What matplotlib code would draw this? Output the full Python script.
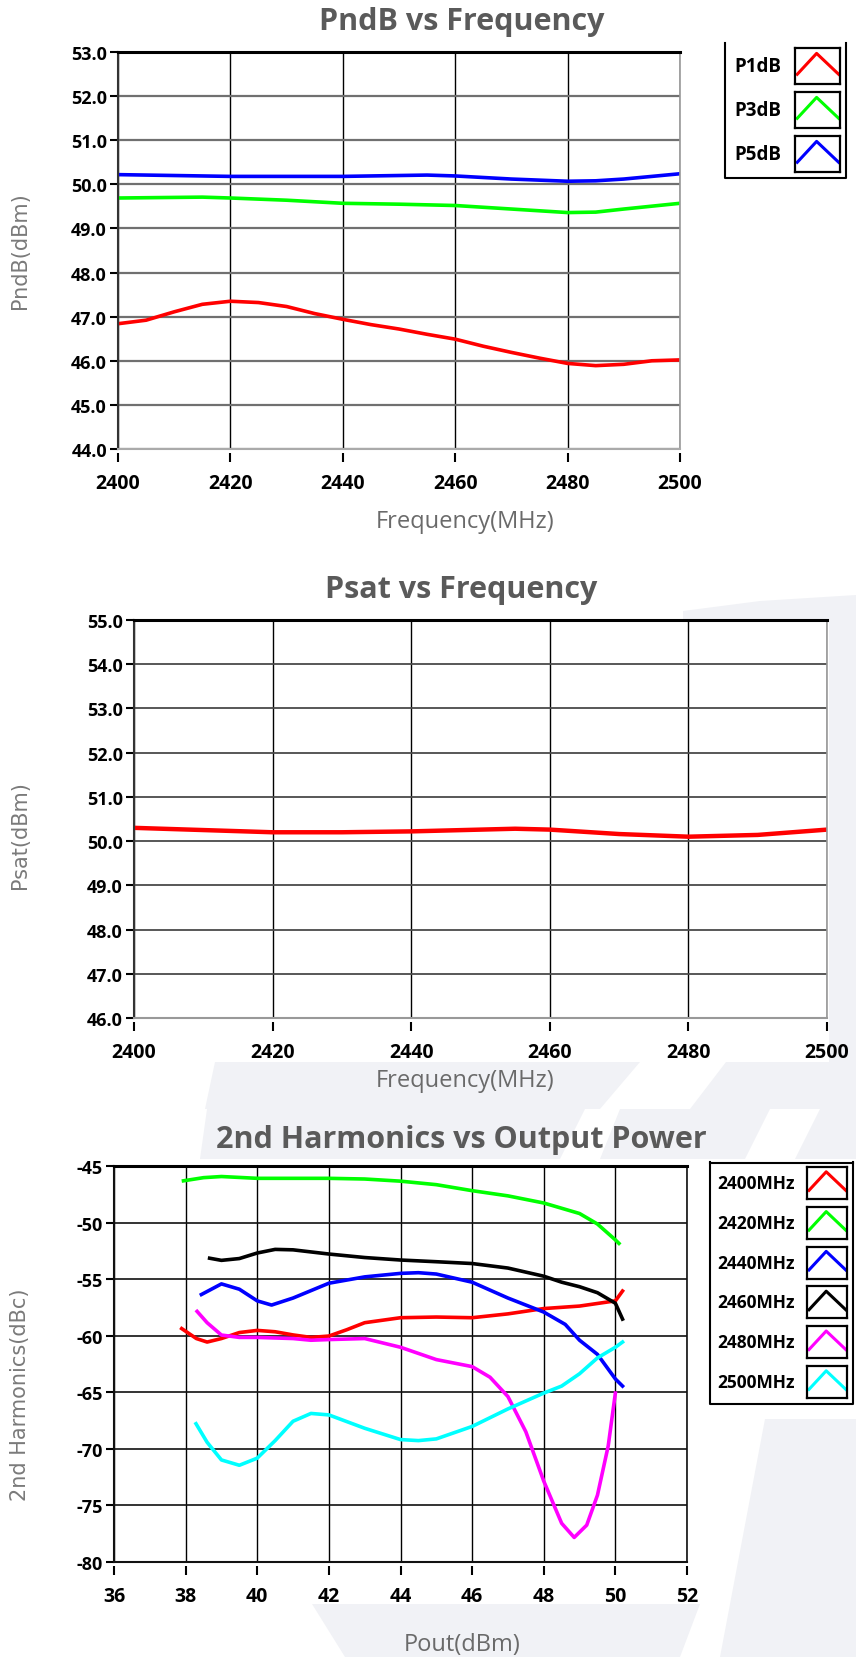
import matplotlib
matplotlib.use("Agg")
import matplotlib.pyplot as plt
from matplotlib.patches import Polygon
from matplotlib.ticker import MultipleLocator, FormatStrFormatter

plt.rcParams['font.family'] = ['Open Sans', 'DejaVu Sans']
plt.rcParams['font.weight'] = 'bold'

W, H = 856, 1658

# ---- chart 1: PndB vs Frequency ----
p1_freq = [2400, 2405, 2410, 2415, 2420, 2425, 2430, 2435, 2440, 2445, 2450, 2455, 2460, 2465, 2470, 2475, 2480, 2485, 2490, 2495, 2500]
p1_db = [46.84, 46.92, 47.11, 47.28, 47.35, 47.32, 47.23, 47.07, 46.94, 46.82, 46.72, 46.60, 46.49, 46.33, 46.19, 46.06, 45.94, 45.89, 45.92, 46.00, 46.02]
p3_freq = [2400, 2415, 2420, 2430, 2440, 2450, 2460, 2470, 2480, 2485, 2490, 2500]
p3_db = [49.69, 49.71, 49.69, 49.64, 49.57, 49.55, 49.52, 49.44, 49.36, 49.37, 49.44, 49.57]
p5_freq = [2400, 2410, 2420, 2440, 2455, 2460, 2470, 2480, 2485, 2490, 2500]
p5_db = [50.22, 50.20, 50.18, 50.18, 50.21, 50.19, 50.12, 50.07, 50.08, 50.12, 50.24]

# ---- chart 2: Psat vs Frequency ----
psat_freq = [2400, 2410, 2420, 2430, 2440, 2450, 2455, 2460, 2470, 2480, 2490, 2500]
psat_db = [50.30, 50.25, 50.20, 50.20, 50.22, 50.26, 50.28, 50.26, 50.16, 50.10, 50.14, 50.26]

# ---- chart 3: 2nd harmonics vs Pout ----
h2400_x = [37.89, 38.3, 38.6, 39.0, 39.5, 40.0, 40.5, 41.0, 41.5, 42.0, 42.5, 43.0, 44.0, 45.0, 46.0, 47.0, 48.0, 49.0, 50.0, 50.2]
h2400_y = [-59.37, -60.25, -60.56, -60.25, -59.72, -59.53, -59.65, -59.93, -60.15, -60.03, -59.47, -58.85, -58.41, -58.35, -58.41, -58.07, -57.60, -57.38, -56.92, -56.05]
h2420_x = [37.94, 38.5, 39.0, 40.0, 42.0, 43.0, 44.0, 45.0, 46.0, 47.0, 48.0, 49.0, 49.5, 50.0, 50.1]
h2420_y = [-46.31, -46.03, -45.93, -46.09, -46.09, -46.15, -46.34, -46.65, -47.18, -47.64, -48.27, -49.20, -50.13, -51.53, -51.84]
h2440_x = [38.44, 39.0, 39.5, 40.0, 40.4, 41.0, 42.0, 43.0, 44.0, 44.5, 45.0, 46.0, 47.0, 48.0, 48.6, 49.0, 49.5, 50.0, 50.2]
h2440_y = [-56.36, -55.42, -55.89, -56.92, -57.29, -56.67, -55.36, -54.80, -54.49, -54.43, -54.55, -55.27, -56.67, -57.91, -59.00, -60.40, -61.65, -63.82, -64.45]
h2460_x = [38.67, 39.0, 39.5, 40.0, 40.5, 41.0, 42.0, 43.0, 44.0, 45.0, 46.0, 47.0, 48.0, 48.5, 49.0, 49.5, 50.0, 50.2]
h2460_y = [-53.15, -53.34, -53.18, -52.69, -52.37, -52.41, -52.78, -53.09, -53.31, -53.46, -53.62, -54.02, -54.74, -55.27, -55.67, -56.20, -57.13, -58.53]
h2480_x = [38.32, 38.6, 39.0, 39.5, 40.0, 41.0, 41.5, 42.0, 43.0, 44.0, 45.0, 46.0, 46.5, 47.0, 47.5, 48.0, 48.5, 48.85, 49.2, 49.5, 49.8, 50.0]
h2480_y = [-57.85, -58.85, -59.94, -60.15, -60.15, -60.25, -60.40, -60.34, -60.25, -61.02, -62.11, -62.73, -63.67, -65.38, -68.49, -72.85, -76.58, -77.83, -76.74, -74.09, -69.74, -65.07]
h2500_x = [38.29, 38.6, 39.0, 39.5, 40.0, 40.5, 41.0, 41.5, 42.0, 43.0, 44.0, 44.5, 45.0, 46.0, 47.0, 48.0, 48.5, 49.0, 49.5, 50.0, 50.2]
h2500_y = [-67.78, -69.42, -70.98, -71.45, -70.82, -69.27, -67.56, -66.87, -67.00, -68.18, -69.18, -69.27, -69.12, -68.02, -66.47, -65.07, -64.45, -63.36, -61.96, -61.02, -60.56]

pn_labels = ['P1dB', 'P3dB', 'P5dB']
pn_colors = ['#ff0000', '#00ff00', '#0000ff']
h_labels = ['2400MHz', '2420MHz', '2440MHz', '2460MHz', '2480MHz', '2500MHz']
h_colors = ['#ff0000', '#00ff00', '#0000ff', '#000000', '#ff00ff', '#00ffff']

GLYPH_X = [0.05, 0.48, 0.97]
GLYPH_Y = [0.27, 0.85, 0.27]
WM = '#f1f2f6'
GREY_TXT = '#5a5a5a'

fig = plt.figure(figsize=(W / 100, H / 100), dpi=100)


def px_axes(l, t, r, b):
    return fig.add_axes([l / W, 1 - b / H, (r - l) / W, (b - t) / H])


def fx(x):
    return x / W


def fy(y):
    return 1 - y / H


def wm(points):
    fig.patches.append(Polygon([(fx(a), fy(b)) for a, b in points], closed=True,
                               transform=fig.transFigure, facecolor=WM, edgecolor='none', zorder=-5))


# faint watermark shapes in the background
wm([(683, 612), (760, 602), (856, 596), (856, 1063), (829, 1063), (829, 621), (683, 621)])
wm([(215, 1063), (640, 1063), (600, 1110), (205, 1110)])
wm([(726, 1063), (856, 1063), (856, 1110), (690, 1110)])
wm([(207, 1110), (585, 1110), (560, 1160), (200, 1160)])
wm([(620, 1110), (770, 1110), (745, 1160), (600, 1160)])
wm([(820, 1110), (856, 1110), (856, 1160), (795, 1160)])
wm([(765, 1420), (856, 1420), (856, 1658), (720, 1658)])
wm([(312, 1605), (700, 1605), (680, 1658), (345, 1658)])


def style(ax, hcol, hlw, left_col, right_col, bot_col):
    ax.set_facecolor('white')
    ax.set_axisbelow(True)
    ax.yaxis.grid(True, color=hcol, lw=hlw)
    ax.xaxis.grid(True, color='black', lw=1.0)
    ax.spines['top'].set_linewidth(2.2)
    ax.spines['top'].set_color('black')
    ax.spines['left'].set_color(left_col)
    ax.spines['left'].set_linewidth(1.5)
    ax.spines['right'].set_color(right_col)
    ax.spines['right'].set_linewidth(1.2)
    ax.spines['bottom'].set_position(('outward', 3))
    ax.spines['bottom'].set_color('none')
    ax.axhline(ax.get_ylim()[0], color=bot_col, lw=1.5, clip_on=False, zorder=3)
    ax.tick_params(axis='x', direction='out', length=6.5, width=1.5, pad=8, labelsize=14, colors='black')
    ax.tick_params(axis='y', direction='out', length=6, width=1.5, pad=2, labelsize=13, colors='black')


def legend_box(l, t, r, b, labels, colors, text_x, box_l, box_r, row_top, pitch, box_h, size, top_line):
    lax = px_axes(l, t, r, b)
    lax.set_xlim(l, r)
    lax.set_ylim(b, t)
    lax.axis('off')
    lax.plot([l + 1, l + 1, r - 1, r - 1], [t, b - 1, b - 1, t], color='black', lw=1.5, clip_on=False)
    if top_line:
        lax.plot([l + 1, r - 1], [t + 1, t + 1], color='black', lw=1.5, clip_on=False)
    for i, (lab, col) in enumerate(zip(labels, colors)):
        y0 = row_top + i * pitch
        lax.text(text_x, y0 + box_h / 2, lab, fontsize=size, fontweight='bold', ha='left', va='center')
        gax = px_axes(box_l, y0, box_r, y0 + box_h)
        gax.set_xlim(0, 1)
        gax.set_ylim(0, 1)
        gax.set_xticks([])
        gax.set_yticks([])
        for s in gax.spines.values():
            s.set_linewidth(1.6)
            s.set_color('black')
        gax.plot(GLYPH_X, GLYPH_Y, color=col, lw=2.2)


# ---------------- chart 1 ----------------
ax1 = px_axes(118, 53, 680, 450)
ax1.plot(p1_freq, p1_db, color=pn_colors[0], lw=2.6)
ax1.plot(p3_freq, p3_db, color=pn_colors[1], lw=2.6)
ax1.plot(p5_freq, p5_db, color=pn_colors[2], lw=2.6)
ax1.set_xlim(2400, 2500)
ax1.set_ylim(44, 53)
ax1.xaxis.set_major_locator(MultipleLocator(20))
ax1.yaxis.set_major_locator(MultipleLocator(1))
ax1.yaxis.set_major_formatter(FormatStrFormatter('%.1f'))
style(ax1, '#707070', 1.6, '#333333', '#999999', '#aaaaaa')
fig.text(fx(462), fy(22), 'PndB vs Frequency', fontsize=22, fontweight='bold', color=GREY_TXT, ha='center', va='center')
fig.text(fx(465), fy(522), 'Frequency(MHz)', fontsize=17, fontweight='normal', color='#6a6a6a', ha='center', va='center')
fig.text(fx(20), fy(251), 'PndB(dBm)', fontsize=15, fontweight='normal', family='DejaVu Sans', color='#7a7a7a',
         rotation=90, ha='center', va='center')
legend_box(724, 44, 847, 180, pn_labels, pn_colors, 734, 795, 840, 49, 44, 36, 13.5, False)

# ---------------- chart 2 ----------------
ax2 = px_axes(134, 621, 827, 1019)
ax2.plot(psat_freq, psat_db, color='#ff0000', lw=3.2)
ax2.set_xlim(2400, 2500)
ax2.set_ylim(46, 55)
ax2.xaxis.set_major_locator(MultipleLocator(20))
ax2.yaxis.set_major_locator(MultipleLocator(1))
ax2.yaxis.set_major_formatter(FormatStrFormatter('%.1f'))
style(ax2, '#4a4a4a', 1.3, '#333333', '#999999', '#999999')
fig.text(fx(461), fy(590), 'Psat vs Frequency', fontsize=22, fontweight='bold', color=GREY_TXT, ha='center', va='center')
fig.text(fx(465), fy(1081), 'Frequency(MHz)', fontsize=17, fontweight='normal', color='#6a6a6a', ha='center', va='center')
fig.text(fx(20), fy(835), 'Psat(dBm)', fontsize=15, fontweight='normal', family='DejaVu Sans', color='#7a7a7a',
         rotation=90, ha='center', va='center')

# ---------------- chart 3 ----------------
ax3 = px_axes(114, 1167, 687, 1563)
h_x = [h2400_x, h2420_x, h2440_x, h2460_x, h2480_x, h2500_x]
h_y = [h2400_y, h2420_y, h2440_y, h2460_y, h2480_y, h2500_y]
for xs, ys, col in zip(h_x, h_y, h_colors):
    ax3.plot(xs, ys, color=col, lw=2.6)
ax3.set_xlim(36, 52)
ax3.set_ylim(-80, -45)
ax3.xaxis.set_major_locator(MultipleLocator(2))
ax3.yaxis.set_major_locator(MultipleLocator(5))
ax3.yaxis.set_major_formatter(FormatStrFormatter('%d'))
style(ax3, '#111111', 1.2, '#111111', '#111111', '#111111')
fig.text(fx(461), fy(1140), '2nd Harmonics vs Output Power', fontsize=22, fontweight='bold', color=GREY_TXT,
         ha='center', va='center')
fig.text(fx(462), fy(1645), 'Pout(dBm)', fontsize=17, fontweight='normal', color='#6a6a6a', ha='center', va='center')
fig.text(fx(20), fy(1395), '2nd Harmonics(dBc)', fontsize=15, fontweight='normal', family='DejaVu Sans',
         color='#7a7a7a', rotation=90, ha='center', va='center')
legend_box(709, 1163, 854, 1406, h_labels, h_colors, 717, 807, 847, 1168, 39.8, 32, 12.5, True)

fig.savefig('out.png', dpi=100, facecolor='white')
